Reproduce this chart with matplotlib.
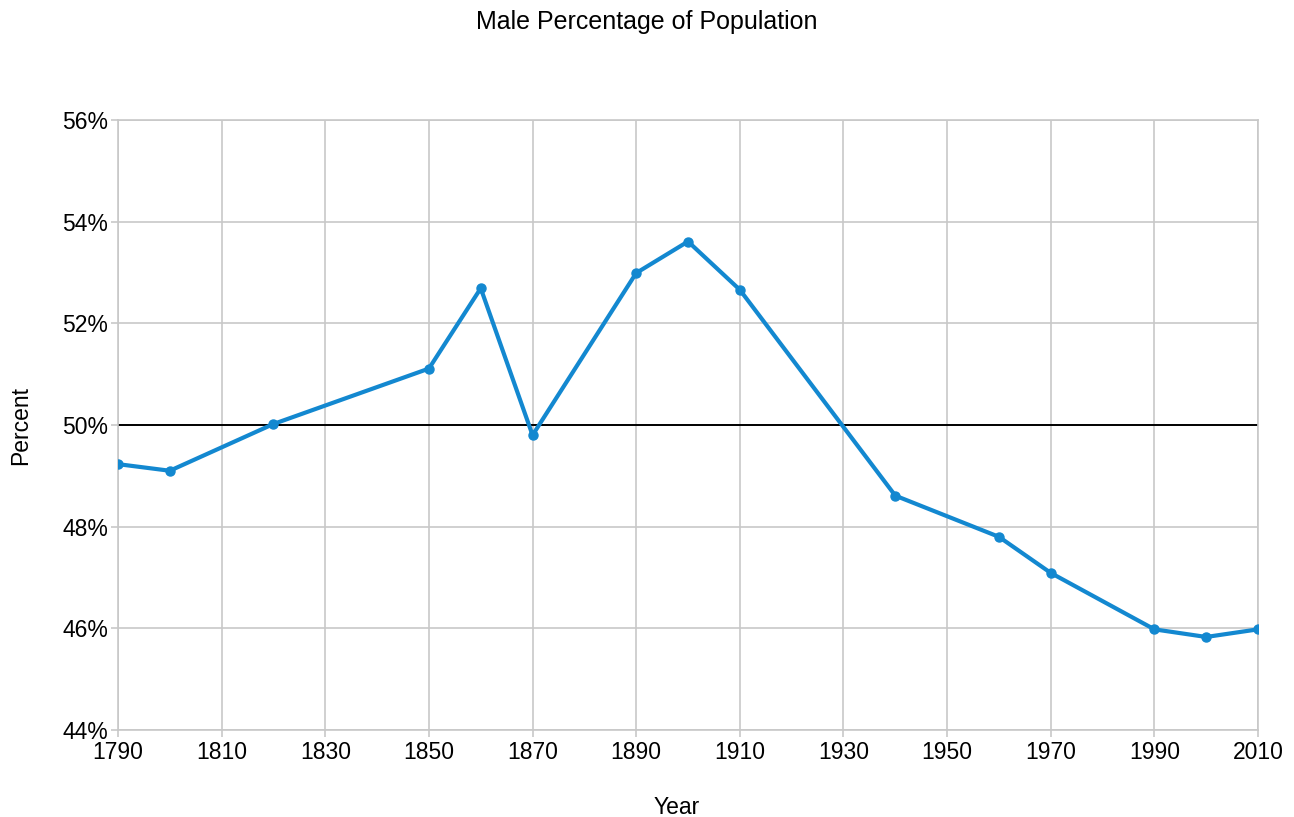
import matplotlib
matplotlib.use("Agg")
from matplotlib import pyplot as plt
from matplotlib.ticker import FuncFormatter

plt.rcParams['font.family'] = ['Liberation Sans', 'DejaVu Sans']

# donnees
annees = [1790, 1800, 1820, 1850, 1860, 1870, 1890, 1900, 1910,
          1940, 1960, 1970, 1990, 2000, 2010]
pct_hommes = [49.23, 49.10, 50.02, 51.11, 52.69, 49.80, 52.99, 53.61, 52.66,
              48.61, 47.80, 47.09, 45.98, 45.83, 45.98]
ligne_ref = 50
ticks_x = list(range(1790, 2011, 20))
ticks_y = list(range(44, 57, 2))

fig = plt.figure(figsize=(12.94, 8.17), dpi=100)
ax = fig.add_axes([0.0912, 0.1065, 0.8810, 0.7466])

gris = '#c8c8c8'
ax.axhline(ligne_ref, color='black', lw=1.4, zorder=2)
ax.plot(annees, pct_hommes, '-o', color='#1388d0', lw=3.0, markersize=6.5, zorder=3)

ax.set_xlim(1790, 2010)
ax.set_ylim(44, 56)
ax.set_xticks(ticks_x)
ax.set_yticks(ticks_y)
ax.yaxis.set_major_formatter(FuncFormatter(lambda v, p: f"{v:.0f}%"))
ax.grid(True, color=gris, lw=1.2, zorder=1)
for s in ax.spines.values():
    s.set_color(gris)
    s.set_linewidth(1.2)
ax.tick_params(axis='both', colors=gris, labelcolor='black', labelsize=16.5,
               length=5, width=1.2)
ax.tick_params(axis='x', pad=3)
ax.tick_params(axis='y', pad=2)

ax.set_xlabel('Year', fontsize=16.5)
ax.xaxis.set_label_coords(0.49, -0.108)
ax.set_ylabel('Percent', fontsize=16.5, labelpad=22)
fig.suptitle('Male Percentage of Population', fontsize=18, y=0.988, va='top')

fig.savefig('out.png', dpi=100)
